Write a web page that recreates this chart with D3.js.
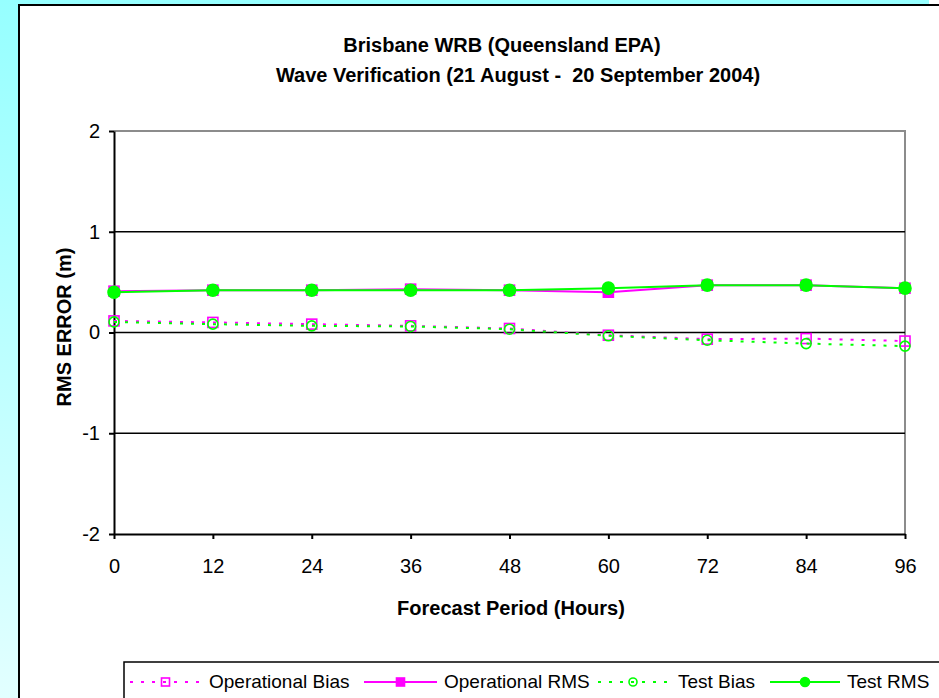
<!DOCTYPE html>
<html>
<head>
<meta charset="utf-8">
<script src="https://cdn.jsdelivr.net/npm/d3@7"></script>
<style>
  html, body { margin: 0; padding: 0; background: #ffffff; }
  svg { display: block; font-family: "Liberation Sans", Arial, sans-serif; }
</style>
</head>
<body>
<svg id="chart" width="939" height="698"></svg>
<script>
// Forecast lead times (hours) and verification statistics (metres)
const hours = [0, 12, 24, 36, 48, 60, 72, 84, 96];
const opBias = [0.115, 0.10, 0.083, 0.066, 0.04, -0.027, -0.066, -0.06, -0.085];
const opRMS = [0.41, 0.42, 0.42, 0.43, 0.42, 0.40, 0.47, 0.47, 0.44];
const testBias = [0.105, 0.083, 0.066, 0.06, 0.033, -0.033, -0.077, -0.11, -0.135];
const testRMS = [0.40, 0.42, 0.42, 0.42, 0.42, 0.44, 0.47, 0.47, 0.44];
const yTicks = [-2, -1, 0, 1, 2];
const xTicks = [0, 12, 24, 36, 48, 60, 72, 84, 96];
const titleLines = ["Brisbane WRB (Queensland EPA)", "Wave Verification (21 August -  20 September 2004)"];

const MAGENTA = "#ff00ff";
const GREEN = "#00ff00";
const FONT = "'Liberation Sans', Arial, sans-serif";

const series = [
  { name: "Operational Bias", values: opBias, color: MAGENTA, dashed: true, marker: "square", filled: false },
  { name: "Operational RMS", values: opRMS, color: MAGENTA, dashed: false, marker: "square", filled: true },
  { name: "Test Bias", values: testBias, color: GREEN, dashed: true, marker: "circle", filled: false },
  { name: "Test RMS", values: testRMS, color: GREEN, dashed: false, marker: "circle", filled: true }
];

const svg = d3.select("#chart");

// Slide background: vertical cyan fade
const defs = svg.append("defs");
const grad = defs.append("linearGradient").attr("id", "bg").attr("x1", 0).attr("y1", 0).attr("x2", 0).attr("y2", 1);
grad.append("stop").attr("offset", "0%").attr("stop-color", "#96ffff");
grad.append("stop").attr("offset", "100%").attr("stop-color", "#e2ffff");
svg.append("rect").attr("x", 0).attr("y", 0).attr("width", 929).attr("height", 698).attr("fill", "url(#bg)");

// Chart area
svg.append("rect").attr("x", 19).attr("y", 5).attr("width", 930).attr("height", 710)
  .attr("fill", "#ffffff").attr("stroke", "#000000").attr("stroke-width", 2);

const x = d3.scaleLinear().domain([0, 96]).range([114, 905]);
const y = d3.scaleLinear().domain([-2, 2]).range([534, 131]);

// Plot area frame (grey top and right)
svg.append("path")
  .attr("d", `M${x(0)},${y(2)}H${x(96)}V${y(-2)}`)
  .attr("fill", "none").attr("stroke", "#8c8c8c").attr("stroke-width", 2);

// Horizontal gridlines
svg.append("g").selectAll("line").data(yTicks.filter(v => v > -2 && v < 2)).join("line")
  .attr("x1", x(0)).attr("x2", x(96)).attr("y1", d => y(d)).attr("y2", d => y(d))
  .attr("stroke", "#000000").attr("stroke-width", 1.5);

// Axes (plain hyphen for negative labels)
const fmt = d => String(d);
const yAxis = svg.append("g").attr("transform", `translate(${x(0)},0)`)
  .call(d3.axisLeft(y).tickValues(yTicks).tickFormat(fmt).tickSizeInner(5).tickSizeOuter(0).tickPadding(9));
const xAxis = svg.append("g").attr("transform", `translate(0,${y(-2)})`)
  .call(d3.axisBottom(x).tickValues(xTicks).tickFormat(fmt).tickSizeInner(5).tickSizeOuter(0).tickPadding(20));
[yAxis, xAxis].forEach(g => {
  g.attr("font-family", null).attr("font-size", null);
  g.select(".domain").attr("stroke", "#000000").attr("stroke-width", 2);
  g.selectAll(".tick line").attr("stroke", "#000000").attr("stroke-width", 2);
  g.selectAll(".tick text").attr("fill", "#000000").style("font-size", "20px").style("font-family", FONT);
});

// Titles
const titleX = [502, 518];
svg.append("g").selectAll("text").data(titleLines).join("text")
  .attr("x", (d, i) => titleX[i]).attr("y", (d, i) => 52 + i * 30)
  .attr("text-anchor", "middle").style("font-size", "20px").style("font-weight", "bold")
  .style("white-space", "pre").attr("xml:space", "preserve")
  .text(d => d);

svg.append("text").attr("x", 511).attr("y", 615).attr("text-anchor", "middle")
  .style("font-size", "20px").style("font-weight", "bold").text("Forecast Period (Hours)");

svg.append("text").attr("transform", "translate(71,327) rotate(-90)").attr("text-anchor", "middle")
  .style("font-size", "20px").style("font-weight", "bold").text("RMS ERROR (m)");

// Marker drawing helper
function drawMarker(g, cx, cy, s, size) {
  if (s.marker === "square") {
    g.append("rect").attr("x", cx - size / 2).attr("y", cy - size / 2).attr("width", size).attr("height", size)
      .attr("fill", s.filled ? s.color : "none").attr("stroke", s.color).attr("stroke-width", 1.6);
  } else {
    g.append("circle").attr("cx", cx).attr("cy", cy).attr("r", size / 2)
      .attr("fill", s.filled ? s.color : "none").attr("stroke", s.color).attr("stroke-width", 1.6);
  }
}

const line = d3.line().x(d => x(d[0])).y(d => y(d[1]));

series.forEach(s => {
  const pts = hours.map((h, i) => [h, s.values[i]]);
  const g = svg.append("g");
  g.append("path").datum(pts).attr("d", line).attr("fill", "none")
    .attr("stroke", s.color).attr("stroke-width", 2)
    .attr("stroke-dasharray", s.dashed ? "3,8" : null);
  pts.forEach(p => {
    const size = s.marker === "square" ? 10 : (s.filled ? 12 : 10);
    drawMarker(g, x(p[0]), y(p[1]), s, size);
  });
});

// Legend
svg.append("rect").attr("x", 124).attr("y", 662).attr("width", 830).attr("height", 60)
  .attr("fill", "#ffffff").attr("stroke", "#000000").attr("stroke-width", 1.5);

const legendPos = [
  { x0: 130, x1: 201, tx: 209 },
  { x0: 364, x1: 437, tx: 444 },
  { x0: 598, x1: 668, tx: 678 },
  { x0: 770, x1: 840, tx: 847 }
];
series.forEach((s, i) => {
  const p = legendPos[i];
  const g = svg.append("g");
  const ly = 682;
  g.append("line").attr("x1", p.x0).attr("x2", p.x1).attr("y1", ly).attr("y2", ly)
    .attr("stroke", s.color).attr("stroke-width", 2)
    .attr("stroke-dasharray", s.dashed ? "3,8" : null);
  drawMarker(g, (p.x0 + p.x1) / 2, ly, s, s.marker === "square" ? 8 : (s.filled ? 9 : 8));
  g.append("text").attr("x", p.tx).attr("y", 688).style("font-size", "19px").text(s.name);
});
</script>
</body>
</html>
